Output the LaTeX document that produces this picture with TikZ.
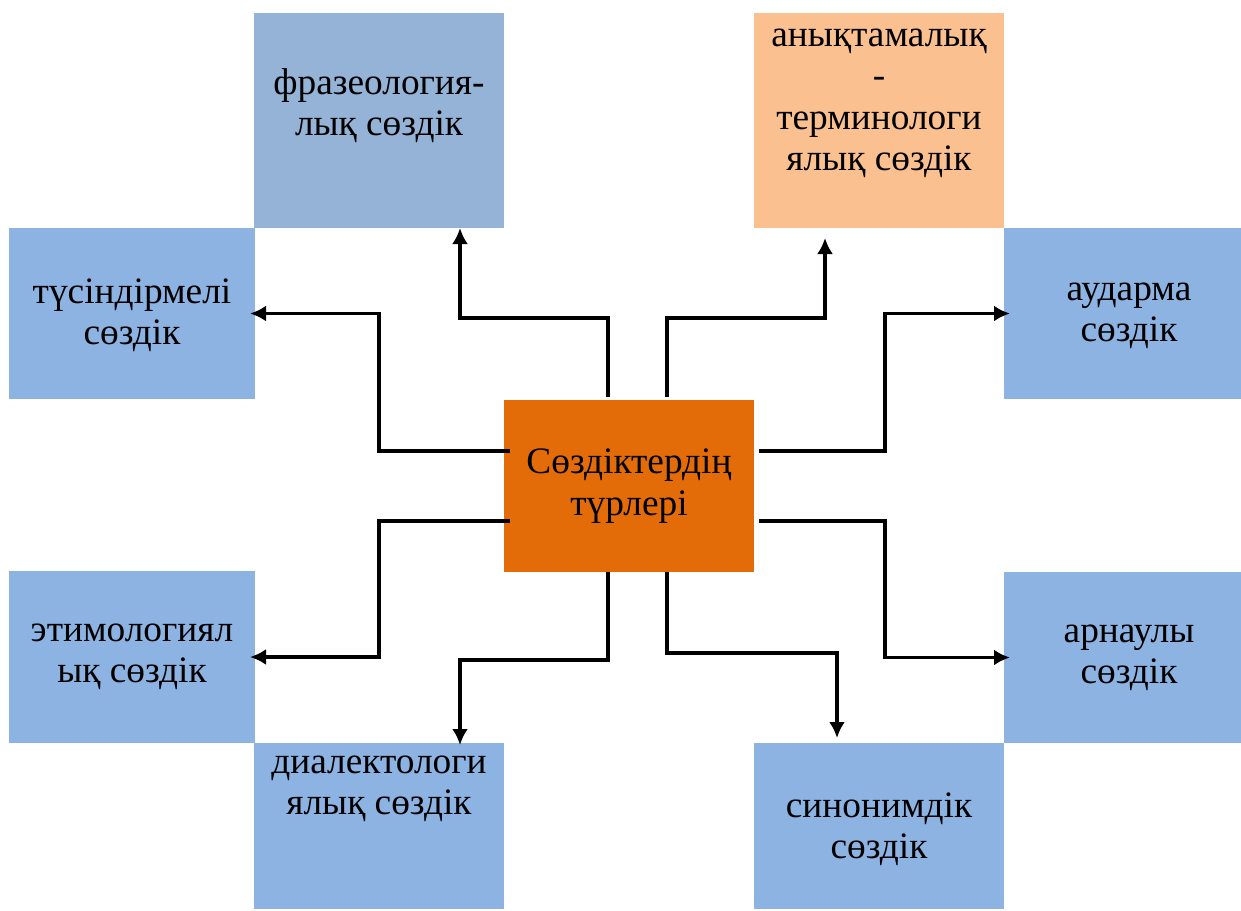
\documentclass[tikz,border=0pt]{standalone}
\usepackage{fontspec}
\setmainfont{Liberation Serif}
\newfontfamily\kazfont{Liberation Serif}
\usetikzlibrary{calc,arrows.meta}
\definecolor{frazblue}{RGB}{149,179,215}
\definecolor{boxblue}{RGB}{141,179,226}
\definecolor{peach}{RGB}{250,192,144}
\definecolor{darkorange}{RGB}{227,108,9}
\begin{document}
\begin{tikzpicture}[x=0.75pt, y=-0.75pt,
    box/.style={anchor=north west, inner sep=0pt, outer sep=0pt, fill=boxblue},
    lbl/.style={align=center, inner sep=0pt, font=\kazfont\fontsize{28}{31}\selectfont},
    arr/.style={line width=2.6pt, -{Latex[length=12pt, width=12pt]}}]
    \useasboundingbox (0,0) rectangle (1241,910);
        % boxes
        \node[box, fill=frazblue, minimum width=187.5pt, minimum height=161.25pt] (fraz) at (254,13) {};
        \node[box, fill=peach, minimum width=187.5pt, minimum height=161.25pt] (anyk) at (754,13) {};
        \node[box, minimum width=184.5pt, minimum height=128.25pt] (tus) at (9,228) {};
        \node[box, minimum width=187.5pt, minimum height=128.25pt] (aud) at (1004,228) {};
        \node[box, fill=darkorange, minimum width=187.5pt, minimum height=129pt] (cen) at (504,400) {};
        \node[box, minimum width=184.5pt, minimum height=129pt] (etym) at (9,571) {};
        \node[box, minimum width=187.5pt, minimum height=128.25pt] (arn) at (1004,572) {};
        \node[box, minimum width=187.5pt, minimum height=124.5pt] (dial) at (254,743) {};
        \node[box, minimum width=187.5pt, minimum height=124.5pt] (syn) at (754,743) {};
        % texts
        \node[lbl] (frazT) at ($(fraz.center)+(0,-15)$) {фразеология-\\лық сөздік};
        \node[lbl] (anykT) at ($(anyk.center)+(0,-17)$) {анықтамалық\\-\\терминологи\\ялық сөздік};
        \node[lbl] (tusT) at ($(tus.center)+(0,2)$) {түсіндірмелі\\сөздік};
        \node[lbl] (audT) at ($(aud.center)+(0,2)$) {аударма\\сөздік};
        \node[lbl] (cenT) at (cen.center) {Сөздіктердің\\түрлері};
        \node[lbl] (etymT) at (etym.center) {этимологиял\\ық сөздік};
        \node[lbl] (arnT) at (arn.center) {арнаулы\\сөздік};
        \node[lbl] (dialT) at ($(dial.center)+(0,-37)$) {диалектологи\\ялық сөздік};
        \node[lbl] (synT) at ($(syn.center)+(0,3)$) {синонимдік\\сөздік};
        % connectors
        \draw[arr] ($(cen.west)+(6,-35)$) -- ++(-131,0) |- ($(tus.east)+(-5,0)$);
        \draw[arr] ($(cen.north)+(-21,-3)$) -- ++(0,-79) -| ($(fraz.south)+(81,0)$);
        \draw[arr] ($(cen.north)+(38,-3)$) -- ++(0,-79) -| ($(anyk.south)+(-54,10)$);
        \draw[arr] ($(cen.east)+(5,-35)$) -- ++(126,0) |- ($(aud.west)+(6,0)$);
        \draw[arr] ($(cen.west)+(6,35)$) -- ++(-131,0) |- ($(etym.east)+(-5,0)$);
        \draw[arr] ($(cen.south)+(-21,0)$) -- ++(0,88) -| ($(dial.north)+(81,2)$);
        \draw[arr] ($(cen.south)+(38,0)$) -- ++(0,81) -| ($(syn.north)+(-42,-5)$);
        \draw[arr] ($(cen.east)+(5,35)$) -- ++(126,0) |- ($(arn.west)+(6,0)$);
    \end{tikzpicture}
\end{document}
